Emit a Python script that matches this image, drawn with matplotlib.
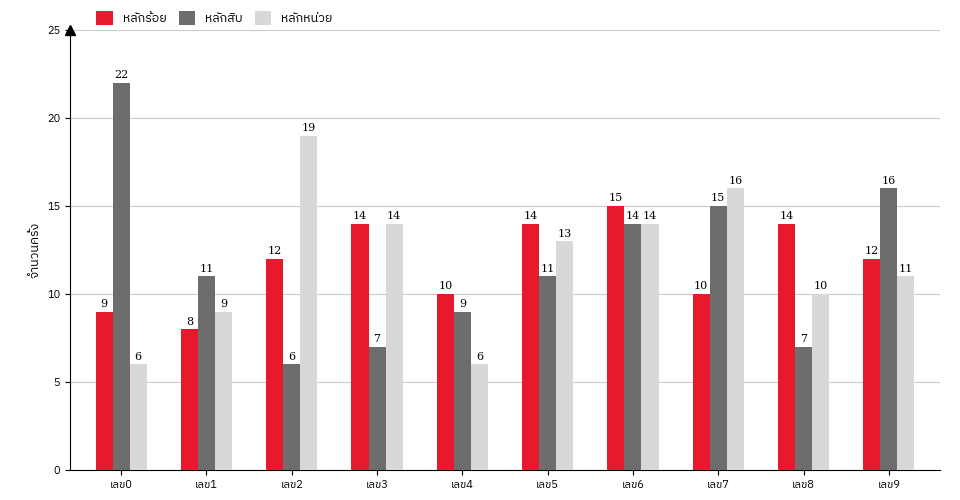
import matplotlib
matplotlib.use("Agg")
import matplotlib.pyplot as plt
from matplotlib import font_manager
from matplotlib.ft2font import FT2Font
import numpy as np

categories = ["เลข0","เลข1","เลข2","เลข3","เลข4","เลข5","เลข6","เลข7","เลข8","เลข9"]
series_names = ["หลักร้อย","หลักสิบ","หลักหน่วย"]
hundreds = [9,8,12,14,10,14,15,10,14,12]
tens = [22,11,6,7,9,11,14,15,7,16]
units = [6,9,19,14,6,13,14,16,10,11]
colors = ["#e8192c","#6d6d6d","#d8d8d8"]

thai_fams = []
for fe in font_manager.fontManager.ttflist:
    try:
        cm = FT2Font(fe.fname).get_charmap()
        if 0x0E01 in cm and 0x0E31 in cm and fe.name not in thai_fams:
            thai_fams.append(fe.name)
    except Exception:
        pass
pref = [f for f in thai_fams if 'Sans' in f] + [f for f in thai_fams if 'Sans' not in f]
plt.rcParams['font.family'] = pref[:2] + ['DejaVu Sans']

fig = plt.figure(figsize=(9.6,5), dpi=100)
ax = fig.add_axes([70/960, 30/500, 870/960, 440/500])
x = np.arange(len(categories))
w = 0.2
for i,(vals,name,c) in enumerate(zip([hundreds,tens,units],series_names,colors)):
    xs = x + (i-1)*w
    ax.bar(xs, vals, w, color=c, label=name, zorder=3)
    for xx,v in zip(xs,vals):
        ax.text(xx, v+0.15, str(v), ha='center', va='bottom', fontsize=8, family='DejaVu Serif')
ax.set_xlim(-0.6, len(categories)-0.4)
ax.set_ylim(0,25)
ax.set_yticks([0,5,10,15,20,25])
ax.yaxis.grid(True, color='#cccccc', lw=0.8, zorder=0)
ax.set_xticks(x)
ax.set_xticklabels(categories, fontsize=8)
ax.tick_params(axis='y', labelsize=8)
for s in ['top','right']:
    ax.spines[s].set_visible(False)
ax.set_ylabel("จำนวนครั้ง", fontsize=9)
ax.plot([0],[1.0], marker='^', color='black', markersize=7, transform=ax.transAxes, clip_on=False)
fig.legend(loc='upper left', bbox_to_anchor=(85/960, 1.0), ncol=3, frameon=False, fontsize=9,
           handlelength=1.3, handleheight=1.3, columnspacing=1.0)
fig.savefig("out.png", dpi=100)
